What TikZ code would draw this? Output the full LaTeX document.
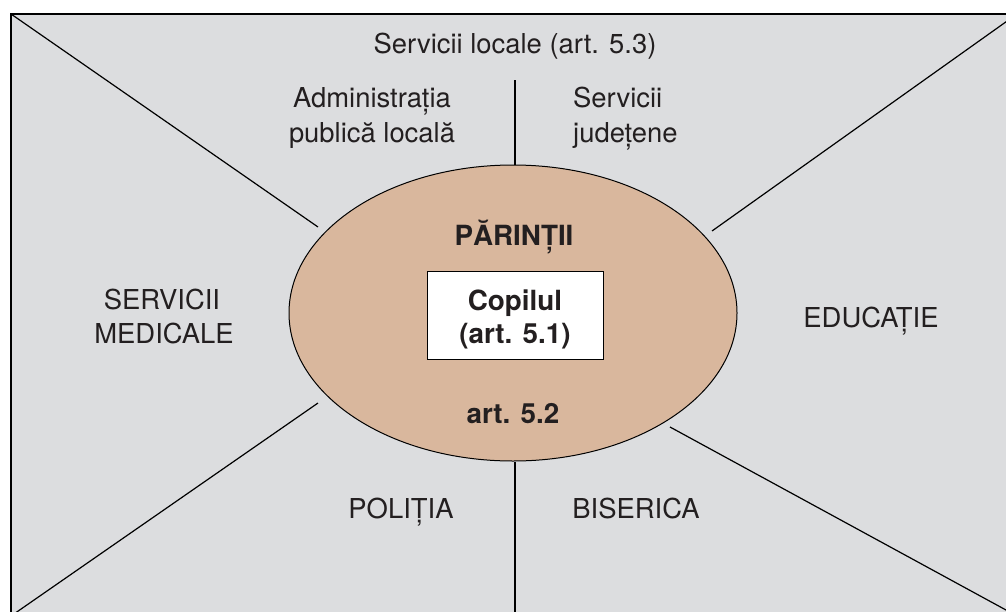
\documentclass[tikz,border=0pt]{standalone}
\usepackage{fontspec}
\setmainfont{TeX Gyre Heros}
\usetikzlibrary{shapes.geometric}
\definecolor{bg}{HTML}{DCDDDF}
\definecolor{tanfill}{HTML}{D9B79D}
\definecolor{ink}{HTML}{231F20}
\begin{document}
\begin{tikzpicture}[x=1pt,y=-1pt,
  lbl/.style={font=\fontsize{27.4}{32}\selectfont, text=ink, anchor=base, inner sep=0pt},
  blbl/.style={font=\fontsize{27.8}{32}\selectfont\bfseries, text=ink, anchor=base, inner sep=0pt},
  conn/.style={line width=1.2pt, draw=black}]
\useasboundingbox (0,0) rectangle (1006,611);
\begin{scope}
\clip (0,0) rectangle (1006,611);
\draw[fill=bg, line width=1.6pt] (11,14) rectangle (1017,616);
\coordinate (c1) at (11,14);
\coordinate (c2) at (11,616);
\coordinate (c3) at (1017,14);
\coordinate (c4) at (1017,616);
\coordinate (e1) at (318,227);
\coordinate (e2) at (318,403);
\coordinate (e3) at (712,231);
\coordinate (e4) at (670,427);
\coordinate (vt) at (515,80);
\coordinate (vb) at (515,622);
\node[ellipse, draw, fill=tanfill, line width=1pt, inner sep=0pt,
      minimum width=448pt, minimum height=296pt] (par) at (513,313) {};
\draw[conn] (c1) -- (e1);
\draw[conn] (c2) -- (e2);
\draw[conn] (c3) -- (e3);
\draw[conn] (c4) -- (e4);
\draw[conn] (vt) -- (vt |- par.north);
\draw[conn] (vb |- par.south) -- (vb);
\end{scope}
\node[draw, fill=white, line width=1pt, inner sep=0pt,
      minimum width=176pt, minimum height=88pt] (box) at (515,315) {};
\node[blbl] (p) at (514,245) {PĂRINȚII};
\node[blbl] (k1) at (515,310) {Copilul};
\node[blbl] (k2) at (515,343) {(art. 5.1)};
\node[blbl] (a2) at (513,423) {art. 5.2};
\node[lbl] (sl) at (515,53) {Servicii locale (art. 5.3)};
\node[lbl] (ad1) at (372,107) {Administrația};
\node[lbl] (ad2) at (372,142) {publică locală};
\node[lbl, anchor=base west] (sj1) at (573,107) {Servicii};
\node[lbl, anchor=base west] (sj2) at (573,142) {județene};
\node[lbl] (sm1) at (162,309) {SERVICII};
\node[lbl] (sm2) at (164,343) {MEDICALE};
\node[lbl] (ed) at (871,327) {EDUCAȚIE};
\node[lbl] (po) at (401,518) {POLIȚIA};
\node[lbl] (bi) at (636,518) {BISERICA};
\end{tikzpicture}
\end{document}
